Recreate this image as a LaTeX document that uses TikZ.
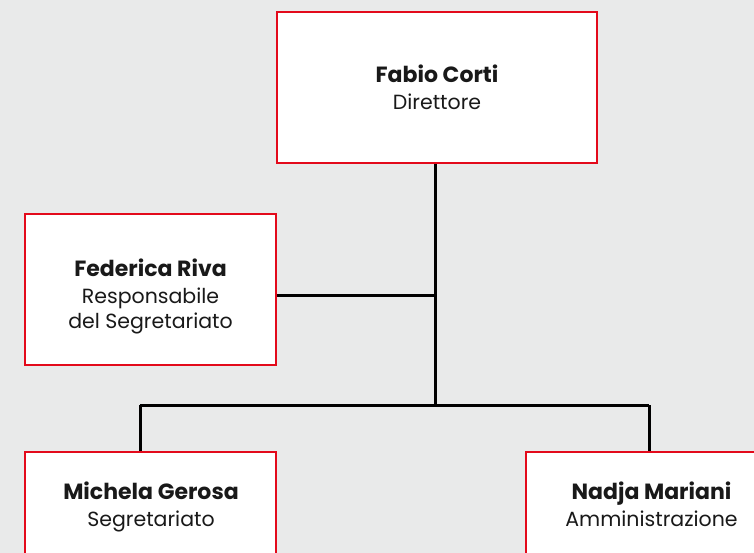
\documentclass[tikz,border=0pt]{standalone}
\usepackage{fontspec}
\setmainfont{Poppins}
\usetikzlibrary{calc}
\definecolor{paper}{HTML}{E9EAEA}
\definecolor{boxred}{HTML}{E30A1B}
\newcommand{\pname}[1]{{\bfseries\fontsize{22}{27}\selectfont #1}\\[2.5pt]}

\tikzset{
  box/.style={draw=boxred, fill=white, line width=2pt, minimum width=251, minimum height=151, inner sep=0},
  who/.style={align=center, font=\fontsize{20.5}{25}\selectfont, text=black!90, anchor=north, inner sep=0},
  link/.style={black, line width=3pt}
}

\begin{document}
\begin{tikzpicture}[x=1pt, y=-1pt]
\useasboundingbox (0,0) rectangle (754,553);
\fill[paper] (0,0) rectangle (754,553);
\clip (0,0) rectangle (754,553);

\coordinate (split) at (435.5,405);
\coordinate (tap) at (435.5,295);
\coordinate (leftdrop) at (140,405);
\coordinate (rightdrop) at (649,405);

% boxes
\node[box, minimum width=320] (corti) at (437,87.5) {};
\node[box] (riva) at (150.5,289.5) {};
\node[box] (gerosa) at (150.5,527.5) {};
\node[box] (mariani) at (651.5,527.5) {};

% connectors
\draw[link] (corti.south -| split) -- (split);
\draw[link] (riva.east |- tap) -- (tap);
\draw[link] (leftdrop) -- (rightdrop);
\draw[link] (leftdrop) -- (leftdrop |- gerosa.north);
\draw[link] (rightdrop) -- (rightdrop |- mariani.north);

% names
\node[who] (cortitxt) at (437,64.5) {\pname{Fabio Corti}Direttore};
\node[who] (rivatxt) at (150.5,258.5) {\pname{Federica Riva}Responsabile\\del Segretariato};
\node[who] (gerosatxt) at (151,481.5) {\pname{Michela Gerosa}Segretariato};
\node[who] (marianitxt) at (651.5,481.5) {\pname{Nadja Mariani}Amministrazione};

\end{tikzpicture}
\end{document}
